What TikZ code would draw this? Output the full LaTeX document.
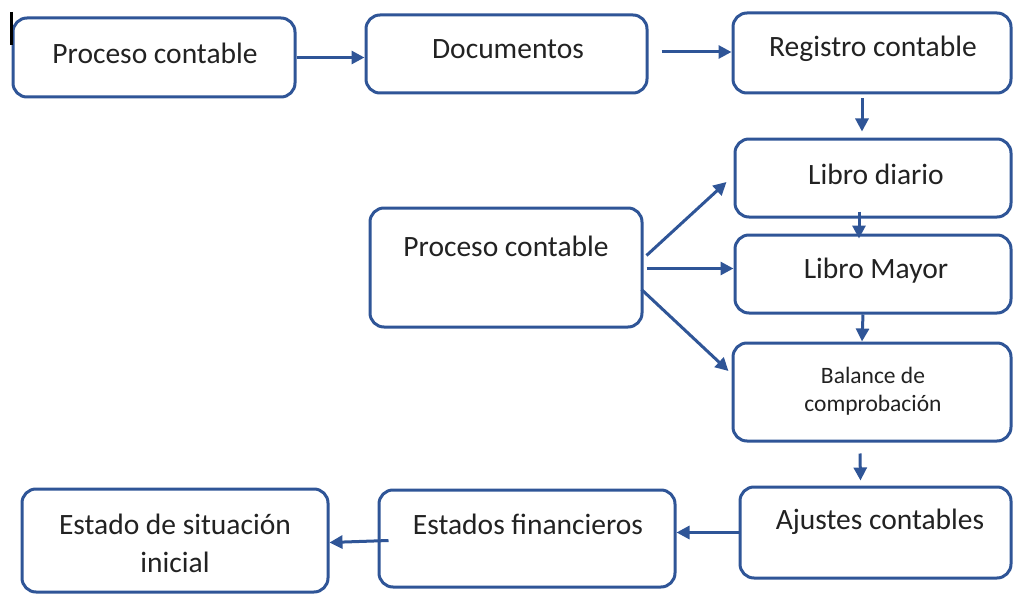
\documentclass[tikz,border=0pt]{standalone}
\usepackage{fontspec}
\setmainfont{Carlito}
\usetikzlibrary{arrows.meta,calc}
\definecolor{bl}{HTML}{2F5597}
\definecolor{tx}{HTML}{222222}
\tikzset{
 box/.style={draw=bl, line width=3pt, rounded corners=14pt, fill=white, inner sep=0pt},
 txt/.style={text=tx, font=\fontsize{29.5}{38}\selectfont, inner sep=0pt, anchor=center, align=center},
 small/.style={font=\fontsize{23.5}{28}\selectfont},
 arr/.style={draw=bl, line width=3pt, -{Triangle[length=13pt,width=13pt]}},
}
\begin{document}
\begin{tikzpicture}[x=1pt,y=-1pt]
\useasboundingbox (0,0) rectangle (1013,594);
% boxes
\node[box, minimum width=282pt, minimum height=79pt] (b1) at (154,57.5) {};
\node[box, minimum width=281pt, minimum height=78pt] (b2) at (506.5,54) {};
\node[box, minimum width=278pt, minimum height=80pt] (b3) at (872,53) {};
\node[box, minimum width=276pt, minimum height=78pt] (b4) at (873,178) {};
\node[box, minimum width=272pt, minimum height=119pt] (b5) at (506,267.5) {};
\node[box, minimum width=276pt, minimum height=78pt] (b6) at (873,274) {};
\node[box, minimum width=278pt, minimum height=98pt] (b7) at (872,392) {};
\node[box, minimum width=271pt, minimum height=91pt] (b8) at (875.5,532.5) {};
\node[box, minimum width=296pt, minimum height=97pt] (b9) at (527,538.5) {};
\node[box, minimum width=306pt, minimum height=103pt] (b10) at (175,540.5) {};
% texts
\node[txt] (t1) at (155,53) {Proceso contable};
\node[txt] (t2) at (508,49) {Documentos};
\node[txt] (t3) at (873,49) {Registro contable};
\node[txt] (t4) at (876,174) {Libro diario};
\node[txt] (t5) at (506,246) {Proceso contable};
\node[txt] (t6) at (876,271) {Libro Mayor};
\node[txt, small] (t7) at (873,391) {Balance de\\comprobación};
\node[txt] (t8) at (880,522) {Ajustes contables};
\node[txt] (t9) at (528,524) {Estados financieros};
\node[txt] (t10) at (175,543) {Estado de situación\\inicial};
% cursor mark
\coordinate (c1) at (11.5,12);
\coordinate (c2) at (11.5,45);
\draw[black, line width=2.5pt] (c1) -- (c2);
% connectors
\draw[arr] (b1.east) -- (b1.east -| b2.west);
\draw[arr] ([shift={(13,-2)}]b2.east) -- ($(b2.east -| b3.west)+(0,-2)$);
\draw[arr] ([shift={(-10,4)}]b3.south) -- ([shift={(-11,-6)}]b4.north);
\draw[arr] ([shift={(-14,-7)}]b4.south) -- ([shift={(-14,5)}]b6.north);
\draw[arr] ([shift={(3,-12)}]b5.east) -- ([shift={(-7,4)}]b4.west);
\draw[arr] ($(b5.east)+(3,1)$) -- ($(b5.east -| b6.west)+(0,1)$);
\draw[arr] ([shift={(-2,22)}]b5.east) -- ([shift={(-3,-21)}]b7.west);
\draw[arr] ([shift={(-10,0)}]b6.south) -- ([shift={(-10,0)}]b7.north);
\draw[arr] ([shift={(-12,11)}]b7.south) -- ([shift={(-15,-5)}]b8.north);
\draw[arr] (b8.west) -- (b8.west -| b9.east);
\draw[arr] ([shift={(11,2)}]b9.west) -- ($(b9.west -| b10.east)+(0,4)$);
\end{tikzpicture}
\end{document}
